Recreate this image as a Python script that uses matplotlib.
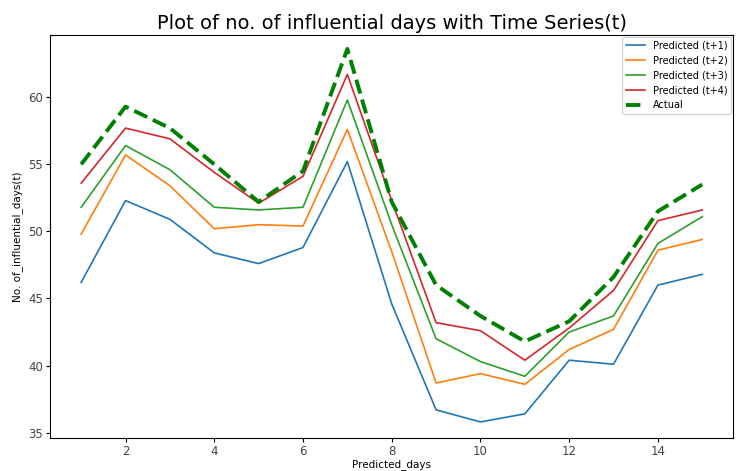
import matplotlib.pyplot as plt

days = list(range(1, 16))

pred_t1 = [46.2, 52.3, 50.9, 48.4, 47.6, 48.8, 55.2, 44.6, 36.7, 35.8, 36.4, 40.4, 40.1, 46.0, 46.8]
pred_t2 = [49.8, 55.7, 53.4, 50.2, 50.5, 50.4, 57.6, 48.5, 38.7, 39.4, 38.6, 41.2, 42.7, 48.6, 49.4]
pred_t3 = [51.8, 56.4, 54.6, 51.8, 51.6, 51.8, 59.8, 50.5, 42.0, 40.3, 39.2, 42.5, 43.7, 49.1, 51.1]
pred_t4 = [53.6, 57.7, 56.9, 54.4, 52.1, 54.1, 61.7, 52.3, 43.2, 42.6, 40.4, 42.8, 45.6, 50.8, 51.6]
actual = [55.0, 59.3, 57.7, 55.0, 52.2, 54.5, 63.6, 52.2, 46.0, 43.7, 41.8, 43.3, 46.6, 51.5, 53.5]

fig = plt.figure(figsize=(7.37, 4.71), dpi=100)
ax = fig.add_axes([0.068, 0.070, 0.927, 0.856])

ax.plot(days, pred_t1, label='Predicted (t+1)', lw=1.2)
ax.plot(days, pred_t2, label='Predicted (t+2)', lw=1.2)
ax.plot(days, pred_t3, label='Predicted (t+3)', lw=1.2)
ax.plot(days, pred_t4, label='Predicted (t+4)', lw=1.2)
ax.plot(days, actual, 'g--', label='Actual', lw=2.8)

ax.set_ylim(34.6, 64.65)
ax.set_title('Plot of no. of influential days with Time Series(t)', fontsize=14, pad=4)
ax.set_xlabel('Predicted_days', fontsize=7.5, labelpad=1)
ax.set_ylabel('No. of_influential_days(t)', fontsize=7.5)
ax.tick_params(labelsize=8.5, labelcolor='#444444', pad=2, length=3)
ax.legend(loc='upper right', fontsize=7, borderaxespad=0.2)

plt.savefig('out.png', dpi=100)
